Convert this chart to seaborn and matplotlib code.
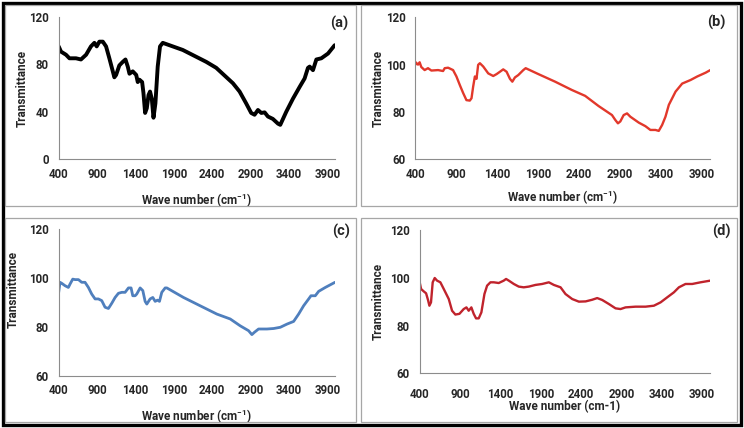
import numpy as np
import pandas as pd
import seaborn as sns
import matplotlib.pyplot as plt
from matplotlib.patches import Rectangle

# ---- data ----
wave_a = [400, 430, 495, 540, 625, 690, 757, 820, 865, 895, 930, 975, 1017, 1060, 1105,
          1125, 1148, 1190, 1235, 1270, 1300, 1322, 1365, 1410, 1430, 1452, 1487, 1504,
          1526, 1548, 1570, 1590, 1613, 1635, 1660, 1690, 1720, 1756, 2017, 2322, 2452,
          2670, 2757, 2843, 2908, 2952, 2996, 3040, 3083, 3126, 3190, 3257, 3287, 3365,
          3452, 3540, 3604, 3648, 3670, 3713, 3757, 3822, 3909, 3996]
trans_a = [95, 90.6, 88, 85, 85, 84, 88, 95, 98, 95, 99, 99, 95, 85, 74,
           69, 71, 79, 82, 84, 78, 72, 74, 71, 65, 67, 65, 56,
           39, 43, 54, 57, 51, 35, 47, 78, 95, 98, 92, 82, 77,
           64, 57, 47, 39, 37.5, 41.5, 39, 39.5, 36, 34, 30, 29, 40,
           51, 61, 68, 77, 78, 75, 84, 85, 89, 96]

wave_b = [400, 404, 433, 453, 473, 514, 555, 596, 678, 739, 759, 800, 861, 902, 943, 984,
          1024, 1065, 1086, 1106, 1127, 1147, 1167, 1188, 1229, 1290, 1351, 1392, 1433,
          1473, 1514, 1555, 1584, 1616, 1657, 1718, 1747, 1902, 2106, 2310, 2473, 2637,
          2800, 2841, 2873, 2902, 2943, 2984, 3024, 3127, 3208, 3269, 3331, 3371, 3412,
          3453, 3494, 3576, 3657, 3759, 3841, 3943, 4000]
trans_b = [99.9, 101, 100, 101, 99, 97.7, 98.5, 97.5, 97.7, 97.3, 98.5, 98.7, 97.7, 95,
           91.4, 88, 85, 84.8, 85.8, 90.7, 95, 94, 99.9, 100.6, 99.2, 96.3, 95.2, 96, 97,
           98, 97, 94, 92.8, 94.6, 95.6, 97.7, 98.5, 96, 92.8, 89.3, 86.8, 82.5,
           78.7, 76.6, 75.2, 76, 78.7, 79.4, 78, 75.5, 74, 72.4, 72.4, 72, 74.5,
           78, 83, 88.6, 92, 93.5, 95, 96.6, 97.7]

wave_c = [400, 417, 439, 483, 526, 548, 583, 613, 657, 700, 743, 787, 830, 874, 917, 961,
          1004, 1048, 1091, 1135, 1178, 1222, 1265, 1309, 1343, 1365, 1396, 1417, 1461,
          1496, 1526, 1548, 1591, 1626, 1657, 1687, 1713, 1743, 1787, 1809, 2026, 2243,
          2461, 2635, 2765, 2874, 2917, 2948, 3004, 3113, 3200, 3287, 3374, 3461, 3526,
          3591, 3657, 3687, 3743, 3787, 3874, 4000]
trans_c = [94.1, 98.2, 97.8, 96.8, 96.1, 97.5, 99.5, 99.3, 99.3, 98.2, 98.2, 96.1, 93.4,
           91.4, 91.4, 90.7, 88, 87.5, 89.6, 92, 93.7, 94.1, 94.1, 95.9, 95.9, 92.7, 92.7,
           93.4, 95.9, 94.8, 90.4, 89.3, 91.4, 92, 90.4, 90.9, 90.4, 94.1, 95.9, 95.9, 92,
           88.6, 85.2, 83.2, 80.4, 78.4, 76.8, 77.7, 79.1, 79.1, 79.3, 79.8, 81.1, 82.2,
           85.2, 88.6, 91.4, 92.7, 92.7, 94.5, 96.1, 98.2]

wave_d = [400, 417, 450, 479, 503, 520, 540, 561, 586, 615, 656, 698, 760, 801, 842, 892,
          945, 979, 1007, 1040, 1069, 1098, 1131, 1164, 1202, 1235, 1276, 1318, 1379, 1441,
          1470, 1504, 1566, 1627, 1689, 1752, 1834, 1917, 2000, 2062, 2145, 2206, 2289,
          2372, 2455, 2537, 2599, 2661, 2744, 2826, 2888, 2950, 3074, 3198, 3301, 3384,
          3466, 3549, 3611, 3693, 3776, 3879, 4000]
trans_d = [98.1, 95.3, 94.3, 93.5, 90.7, 88.3, 89.7, 98.1, 99.9, 98.8, 98.1, 95.3, 91.1,
           86.2, 84.6, 84.9, 86.9, 87.6, 86.2, 87.6, 84.9, 83, 83, 85.5, 93.2, 96.7, 98.1,
           98.1, 97.8, 98.8, 99.5, 98.8, 97.4, 96.3, 96, 96.3, 97, 97.4, 98.1, 97, 96,
           93.2, 91.1, 90, 90.1, 90.8, 91.5, 90.7, 89, 87.2, 86.9, 87.6, 87.9, 87.9, 88.3,
           89.7, 91.8, 93.9, 96, 97.4, 97.4, 98.1, 98.8]

x_ticks = [400, 900, 1400, 1900, 2400, 2900, 3400, 3900]
y_ticks_a = [0, 40, 80, 120]
y_ticks_bcd = [60, 80, 100, 120]

W, H = 744, 428


def px_box(l, t, r, b):
    return [l / W, 1 - b / H, (r - l) / W, (b - t) / H]


sns.set_theme(style="white")
plt.rcParams["font.family"] = ["Roboto", "DejaVu Sans"]
plt.rcParams["font.weight"] = "bold"
plt.rcParams["mathtext.fontset"] = "custom"
plt.rcParams["mathtext.rm"] = "Roboto:bold"
plt.rcParams["mathtext.bf"] = "Roboto:bold"

fig = plt.figure(figsize=(W / 100, H / 100), dpi=100)

# outer frame and panel frames
fig.add_artist(Rectangle((2.5 / W, 1 - 425 / H), 738.5 / W, 422 / H, transform=fig.transFigure,
                         fill=False, edgecolor="black", linewidth=2.4))
for (l, t, r, b) in [(5, 5, 356, 206), (361, 5, 737, 206), (5, 218, 356, 422), (361, 218, 737, 422)]:
    fig.add_artist(Rectangle((l / W, 1 - b / H), (r - l) / W, (b - t) / H, transform=fig.transFigure,
                             fill=False, edgecolor="#a6a6a6", linewidth=0.9))

panels = [
    dict(box=(58.7, 16.7, 335, 159.3), x=wave_a, y=trans_a, color="black", lw=2.8,
         ylim=(0, 120), yt=y_ticks_a, label="(a)", lab_xy=(348, 23),
         xlabel="Wave number (cm$^{-1}$)", xl=-40.7, yl=(-36.7, 0.5), xpad=6),
    dict(box=(415.3, 17.3, 710.3, 159.3), x=wave_b, y=trans_b, color="#e2382b", lw=1.7,
         ylim=(60, 120), yt=y_ticks_bcd, label="(b)", lab_xy=(725, 22),
         xlabel="Wave number (cm$^{-1}$)", xl=-37.7, yl=(-36.6, 0.5), xpad=6),
    dict(box=(58.7, 229, 335, 375.7), x=wave_c, y=trans_c, color="#4f7fbd", lw=2.0,
         ylim=(60, 120), yt=y_ticks_bcd, label="(c)", lab_xy=(350, 231),
         xlabel="Wave number (cm$^{-1}$)", xl=-40.3, yl=(-45.4, 0.59), xpad=6),
    dict(box=(419.7, 230, 710.3, 373.3), x=wave_d, y=trans_d, color="#c0232c", lw=1.7,
         ylim=(60, 120), yt=y_ticks_bcd, label="(d)", lab_xy=(731, 231),
         xlabel="Wave number (cm-1)", xl=-33.7, yl=(-41, 0.5), xpad=10.5),
]

for p in panels:
    ax = fig.add_axes(px_box(*p["box"]))
    df = pd.DataFrame({"wave": p["x"], "trans": p["y"]})
    sns.lineplot(data=df, x="wave", y="trans", ax=ax, color=p["color"],
                 linewidth=p["lw"], sort=False, estimator=None)
    ax.set_xlim(400, 4000)
    ax.set_ylim(*p["ylim"])
    ax.set_xticks(x_ticks)
    ax.set_yticks(p["yt"])
    ax.tick_params(length=0, labelsize=8.3, pad=7)
    ax.tick_params(axis="x", pad=p["xpad"])
    for lab in ax.get_xticklabels() + ax.get_yticklabels():
        lab.set_fontweight("bold")
    for s in ["top", "right"]:
        ax.spines[s].set_visible(False)
    for s in ["left", "bottom"]:
        ax.spines[s].set_color("#8c8c8c")
        ax.spines[s].set_linewidth(0.8)
    bw = p["box"][2] - p["box"][0]
    bh = p["box"][3] - p["box"][1]
    ax.set_xlabel(p["xlabel"], fontsize=8.5, fontweight="bold", va="center")
    ax.set_ylabel("Transmittance", fontsize=8.5, fontweight="bold", va="center")
    ax.xaxis.set_label_coords(0.5, p["xl"] / bh)
    ax.yaxis.set_label_coords(p["yl"][0] / bw, p["yl"][1])
    fig.text(p["lab_xy"][0] / W, 1 - p["lab_xy"][1] / H, p["label"], ha="right", va="center",
             fontsize=10.5, fontweight="bold")

fig.savefig("out.png", dpi=100)
